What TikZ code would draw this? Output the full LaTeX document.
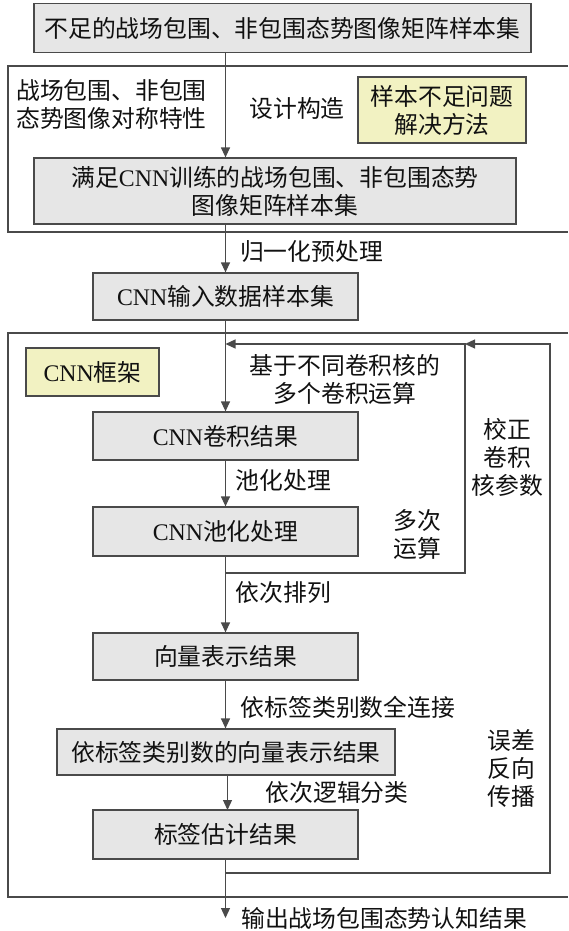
\documentclass[tikz,border=0pt]{standalone}
\usepackage{fontspec}
\setmainfont{Noto Sans CJK SC}
\newfontfamily\en{Liberation Serif}
\usetikzlibrary{arrows.meta}
\definecolor{linec}{HTML}{4A4A4A}
\definecolor{boxgray}{HTML}{E6E6E6}
\definecolor{boxyellow}{HTML}{F2F2C2}
\definecolor{txt}{HTML}{111111}
\begin{document}
\begin{tikzpicture}[x=1pt,y=-1pt,
  every node/.style={font=\fontsize{23.8}{28}\selectfont, inner sep=0pt, text=txt},
  box/.style={draw=linec, fill=boxgray, line width=1.2pt, align=center},
  ybox/.style={draw=linec, fill=boxyellow, line width=1.2pt, align=center},
  frame/.style={draw=linec, line width=1.2pt},
  conn/.style={draw=linec, line width=1.2pt},
  arr/.style={conn, -{Triangle[length=10pt,width=9pt]}},
  lbl/.style={align=center}]
\fill[white] (0,0) rectangle (568,931);
\useasboundingbox (0,0) rectangle (568,931);

% frames
\draw[frame] (568,66) -- (8,66) -- (8,232) -- (568,232);
\draw[frame] (568,333) -- (8,333) -- (8,897) -- (568,897);

% boxes
\node[box, minimum width=497pt, minimum height=49pt] (box1) at (282.5,28) {不足的战场包围、非包围态势图像矩阵样本集};
\node[ybox, minimum width=168pt, minimum height=66pt] (y1) at (442,110) {样本不足问题\\解决方法};
\node[lbl] (l1) at (111.5,104) {战场包围、非包围\\态势图像对称特性};
\node[lbl] (l2) at (297,108) {设计构造};
\node[box, minimum width=482pt, minimum height=66pt] (box2) at (275,191) {满足{\en CNN}训练的战场包围、非包围态势\\图像矩阵样本集};
\node[box, minimum width=265pt, minimum height=47pt] (box3) at (225.5,296.5) {{\en CNN}输入数据样本集};
\node[lbl] (l3) at (311.5,252) {归一化预处理};

\node[ybox, minimum width=133pt, minimum height=48pt] (y2) at (92.5,372) {{\en CNN}框架};
\node[box, minimum width=265pt, minimum height=48pt] (box4) at (225.5,436) {{\en CNN}卷积结果};
\node[lbl] (l4) at (345,379) {基于不同卷积核的\\多个卷积运算};
\node[lbl] (l5) at (283.5,480) {池化处理};
\node[box, minimum width=265pt, minimum height=49pt] (box5) at (225.5,531.5) {{\en CNN}池化处理};
\node[lbl] (l6) at (417.5,534) {多次\\运算};
\node[lbl] (l7) at (507.5,457) {校正\\卷积\\核参数};
\node[lbl] (l8) at (283.5,593) {依次排列};
\node[box, minimum width=265pt, minimum height=47pt] (box6) at (225.5,656.5) {向量表示结果};
\node[lbl] (l9) at (348,707) {依标签类别数全连接};
\node[box, minimum width=338pt, minimum height=46pt] (box7) at (226,752) {依标签类别数的向量表示结果};
\node[lbl] (l10) at (337,792) {依次逻辑分类};
\node[box, minimum width=265pt, minimum height=49pt] (box8) at (225.5,834.5) {标签估计结果};
\node[lbl] (l11) at (511.5,768) {误差\\反向\\传播};
\node[lbl, anchor=west] (out) at (241,918) {输出战场包围态势认知结果};

% coordinates
\coordinate (j1) at (225.5,573);
\coordinate (c1) at (465,573);
\coordinate (c2) at (465,344);
\coordinate (j2) at (225.5,344);
\coordinate (j3) at (225.5,873);
\coordinate (c3) at (550,873);
\coordinate (c4) at (550,344);
\coordinate (e1) at (225.5,918);
\coordinate (a7) at (227.5,775);
\coordinate (b8) at (227.5,810);

% connectors
\draw[arr] (box1.south -| box3.center) -- (box2.north -| box3.center);
\draw[arr] (box2.south -| box3.center) -- (box3.north);
\draw[arr] (box3.south) -- (box4.north);
\draw[arr] (box4.south) -- (box5.north);
\draw[arr] (box5.south) -- (box6.north);
\draw[arr] (box6.south) -- (box7.north -| box6.center);
\draw[arr] (a7) -- (b8);
\draw[arr] (box8.south) -- (e1);
\draw[arr] (j1) -- (c1) -- (c2) -- (j2);
\draw[arr] (j3) -- (c3) -- (c4) -- (c2);
\end{tikzpicture}
\end{document}
